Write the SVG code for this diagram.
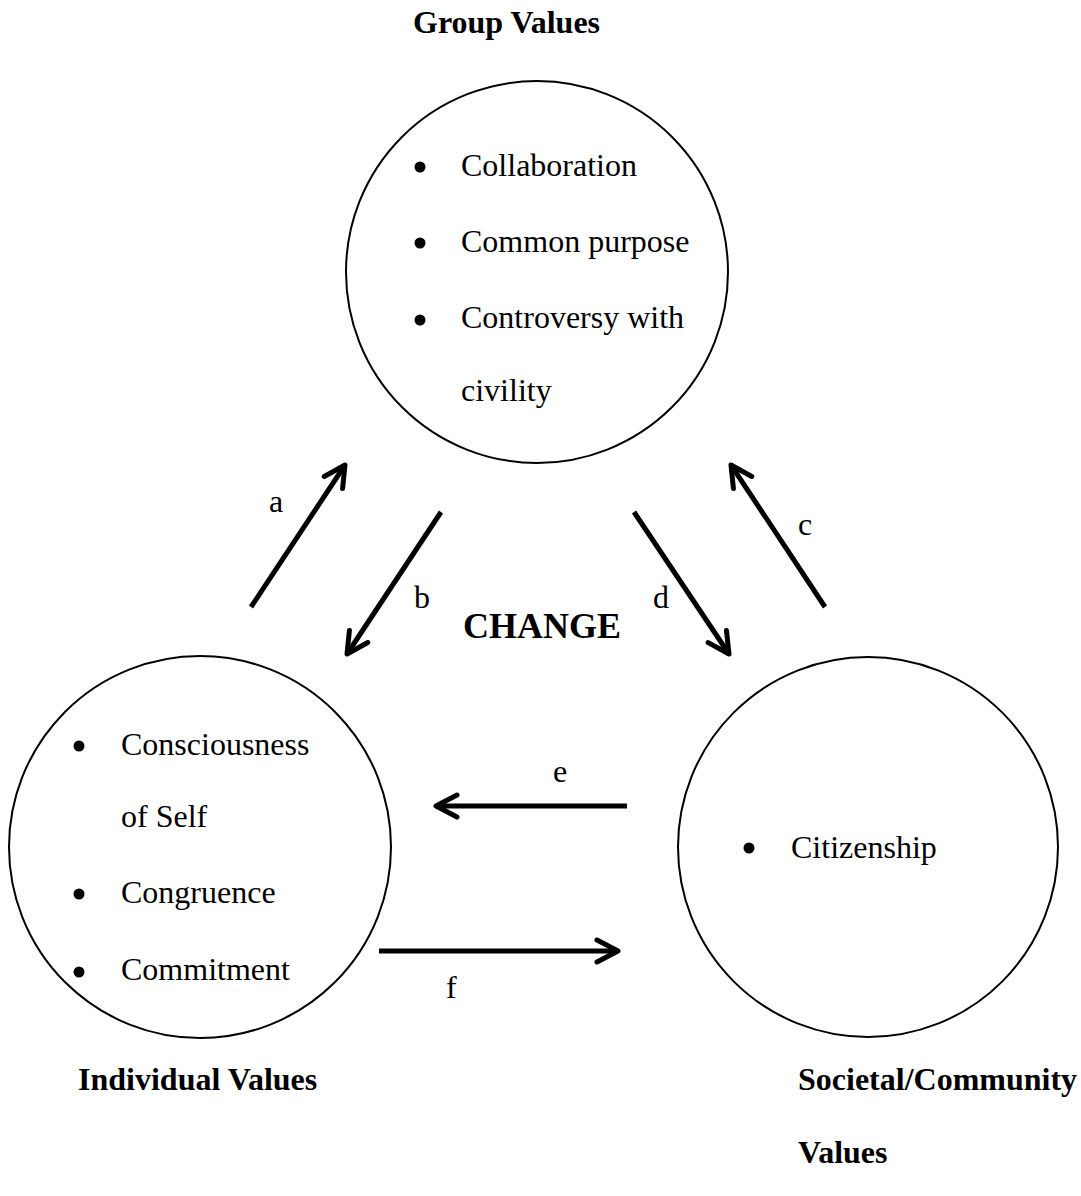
<svg xmlns="http://www.w3.org/2000/svg" width="1081" height="1196" viewBox="0 0 1081 1196">
  <defs>
    <style>
      text { font-family: "Liberation Serif", "Times New Roman", serif; fill: #000; }
      .item { font-size: 32px; }
      .head { font-size: 32px; font-weight: bold; }
      .lbl { font-size: 32px; }
      .ring { fill: #fff; stroke: #000; stroke-width: 2; }
      .dot { fill: #000; }
      .arrow { stroke: #000; stroke-width: 5; fill: none; marker-end: url(#chevron); }
    </style>
    <marker id="chevron" markerUnits="userSpaceOnUse" orient="auto" refX="0" refY="0" markerWidth="40" markerHeight="40" overflow="visible">
      <path d="M-21,-11 L0,0 L-21,11" fill="none" stroke="#000" stroke-width="5" stroke-linecap="round" stroke-linejoin="round"/>
    </marker>
  </defs>

  <rect width="1081" height="1196" fill="#fff"/>

  <!-- Group values -->
  <g id="group-values">
    <circle class="ring" cx="537" cy="272" r="191"/>
    <text class="head" x="413" y="33">Group Values</text>
    <circle class="dot" cx="420" cy="167" r="5.5"/>
    <text class="item" x="461" y="176">Collaboration</text>
    <circle class="dot" cx="420" cy="243" r="5.5"/>
    <text class="item" x="461" y="252">Common purpose</text>
    <circle class="dot" cx="420" cy="320" r="5.5"/>
    <text class="item" x="461" y="328">Controversy with</text>
    <text class="item" x="461" y="401">civility</text>
  </g>

  <!-- Individual values -->
  <g id="individual-values">
    <circle class="ring" cx="200" cy="847" r="191"/>
    <circle class="dot" cx="79" cy="746" r="5.5"/>
    <text class="item" x="121" y="755">Consciousness</text>
    <text class="item" x="121" y="827">of Self</text>
    <circle class="dot" cx="79" cy="894" r="5.5"/>
    <text class="item" x="121" y="903">Congruence</text>
    <circle class="dot" cx="79" cy="972" r="5.5"/>
    <text class="item" x="121" y="980">Commitment</text>
    <text class="head" x="78" y="1090">Individual Values</text>
  </g>

  <!-- Societal / community values -->
  <g id="societal-values">
    <circle class="ring" cx="868" cy="847" r="190"/>
    <circle class="dot" cx="749" cy="848" r="5.5"/>
    <text class="item" x="791" y="858">Citizenship</text>
    <text class="head" x="798" y="1090">Societal/Community</text>
    <text class="head" x="798" y="1163">Values</text>
  </g>

  <!-- Centre label -->
  <g id="change">
    <text class="head" x="463" y="638" style="font-size:36px">CHANGE</text>
  </g>

  <!-- Connectors -->
  <g id="connectors">
    <line class="arrow" x1="251" y1="607" x2="345" y2="465"/>
    <line class="arrow" x1="441" y1="512" x2="347" y2="654"/>
    <line class="arrow" x1="825" y1="607" x2="731" y2="465"/>
    <line class="arrow" x1="634" y1="512" x2="729" y2="654"/>
    <line class="arrow" x1="627" y1="806" x2="436" y2="806"/>
    <line class="arrow" x1="379" y1="951" x2="618" y2="951"/>
    <text class="lbl" x="269" y="512">a</text>
    <text class="lbl" x="414" y="608">b</text>
    <text class="lbl" x="798" y="535">c</text>
    <text class="lbl" x="653" y="608">d</text>
    <text class="lbl" x="553" y="782">e</text>
    <text class="lbl" x="446" y="998">f</text>
  </g>
</svg>
